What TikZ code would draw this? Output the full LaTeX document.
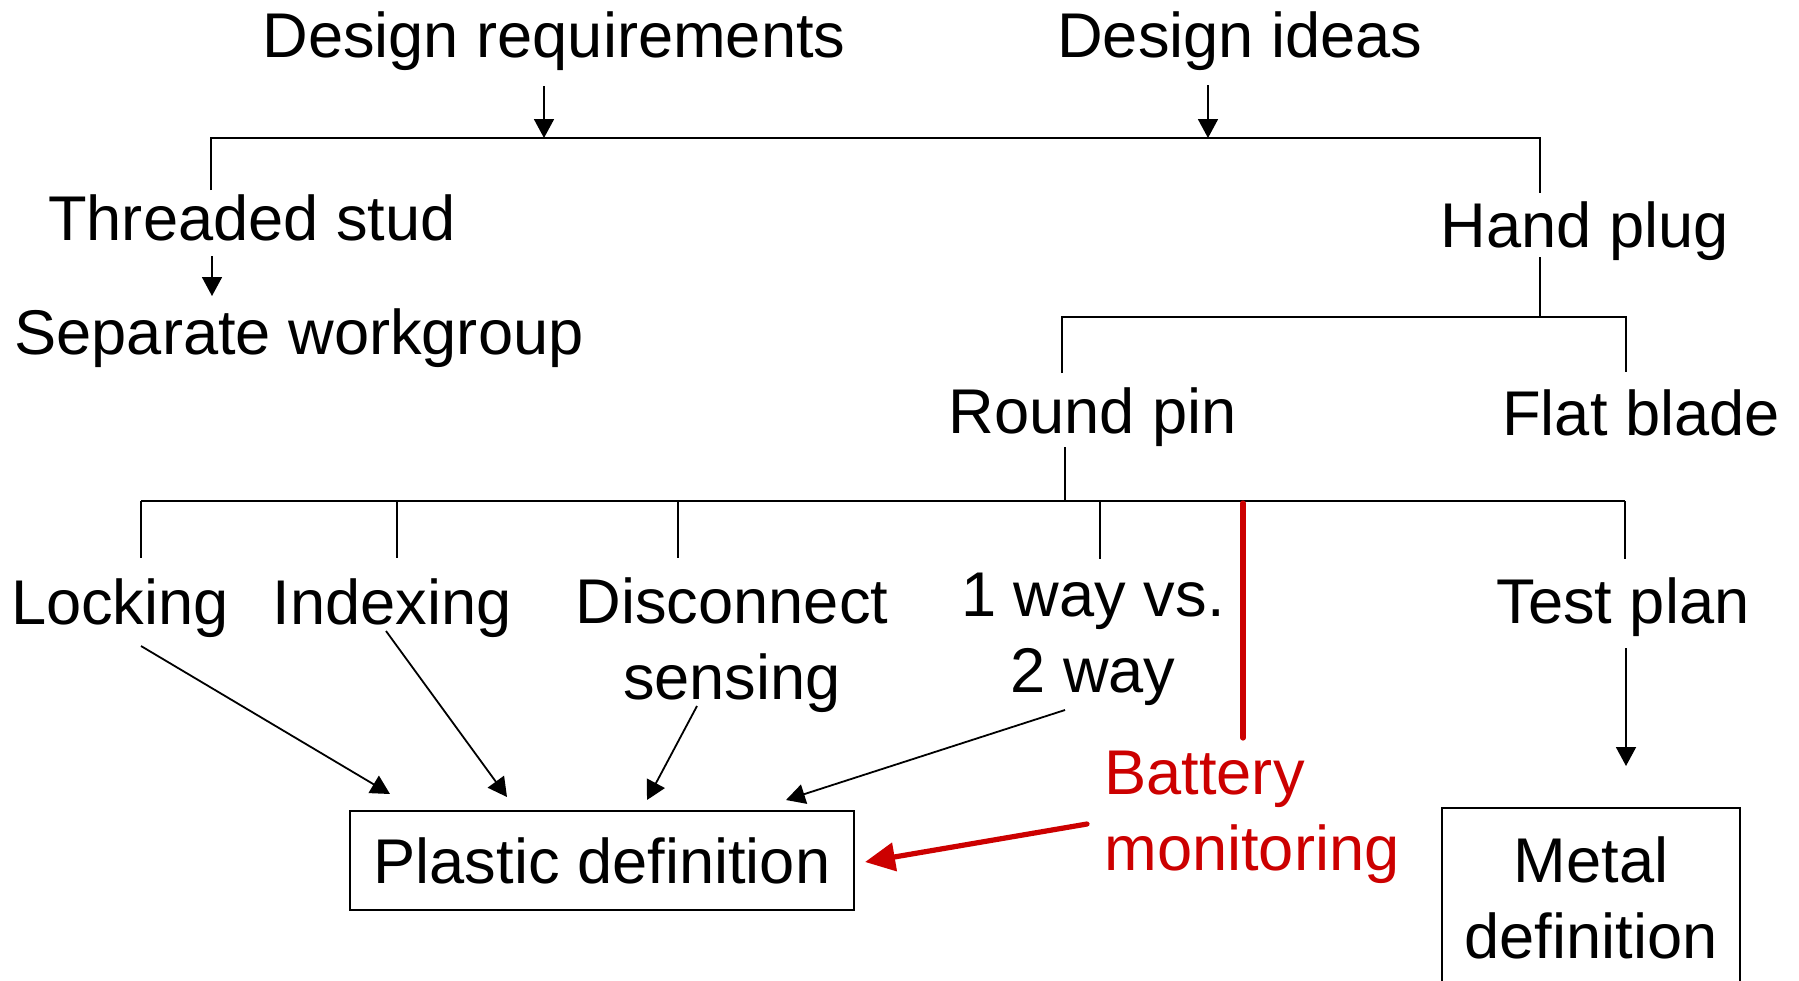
\documentclass[tikz,border=0pt]{standalone}
\usepackage{fontspec}
\setmainfont{Liberation Sans}
\usetikzlibrary{arrows.meta}
\definecolor{dred}{RGB}{204,0,0}
\begin{document}
\begin{tikzpicture}[x=0.5pt,y=-0.5pt,
  lbl/.style={inner sep=0pt, anchor=base, font=\fontsize{31.6}{38}\selectfont, align=center},
  ln/.style={line width=0.9pt, black},
  arr/.style={ln, -{Triangle[length=9.5pt,width=10pt]}},
  redln/.style={line width=2.6pt, dred, line cap=round},
  redarr/.style={redln, -{Triangle[length=15pt,width=14pt]}},
  boxnode/.style={draw, line width=0.9pt, inner sep=0pt, font=\fontsize{31.6}{38}\selectfont, align=center}]
\clip (0,0) rectangle (1799,980);
% text nodes (two-line nodes are placed by the baseline of their last line)
\node[lbl] (dr) at (554,57) {Design requirements};
\node[lbl] (di) at (1240,57) {Design ideas};
\node[lbl] (ts) at (252,240) {Threaded stud};
\node[lbl] (sw) at (299,354) {Separate workgroup};
\node[lbl] (hp) at (1585,247) {Hand plug};
\node[lbl] (rp) at (1093,433) {Round pin};
\node[lbl] (fb) at (1641,435) {Flat blade};
\node[lbl] (lk) at (120,624) {Locking};
\node[lbl] (ix) at (392,624) {Indexing};
\node[lbl] (ds) at (732,699) {Disconnect\\sensing};
\node[lbl] (ow) at (1093,692) {1 way vs.\\2 way};
\node[lbl] (tp) at (1623,623) {Test plan};
\node[lbl, anchor=base west, align=left, text=dred] (bm) at (1104,870) {Battery\\monitoring};
\node[boxnode, minimum width=252pt, minimum height=49.5pt] (pd) at (602,860.5) {Plastic definition};
\node[boxnode, minimum width=149pt, minimum height=89.5pt] (md) at (1591,897.5) {Metal\\definition};
% coordinates
\coordinate (drs) at (544,86);   \coordinate (drt) at (544,138);
\coordinate (dis) at (1208,85);  \coordinate (dit) at (1208,138);
\coordinate (tl) at (211,190);   \coordinate (tla) at (211,138);
\coordinate (tra) at (1540,138); \coordinate (tr) at (1540,193);
\coordinate (tss) at (212,256);  \coordinate (tst) at (212,296);
\coordinate (hps) at (1540,257); \coordinate (hpj) at (1540,317);
\coordinate (hl) at (1062,373);  \coordinate (hla) at (1062,317);
\coordinate (hra) at (1626,317); \coordinate (hr) at (1626,372);
\coordinate (rps) at (1065,447); \coordinate (rpj) at (1065,501);
\coordinate (b1a) at (141,501);  \coordinate (b1) at (141,558);
\coordinate (b2a) at (397,501);  \coordinate (b2) at (397,558);
\coordinate (b3a) at (678,501);  \coordinate (b3) at (678,558);
\coordinate (b4a) at (1100,501); \coordinate (b4) at (1100,559);
\coordinate (b5a) at (1625,501); \coordinate (b5) at (1625,559);
\coordinate (rda) at (1243,503); \coordinate (rd) at (1243,738);
\coordinate (tps) at (1626,648); \coordinate (tpt) at (1626,766);
\coordinate (lks) at (141,646);  \coordinate (lkt) at (390,794);
\coordinate (ixs) at (386,631);  \coordinate (ixt) at (507,797);
\coordinate (dss) at (697,706);  \coordinate (dst) at (647,800);
\coordinate (ows) at (1065,710); \coordinate (owt) at (786,800);
\coordinate (bms) at (1087,824); \coordinate (pdin) at (865,862);
% connectors
\draw[arr] (drs) -- (drt);
\draw[arr] (dis) -- (dit);
\draw[ln] (tl) -- (tla) -- (tra) -- (tr);
\draw[arr] (tss) -- (tst);
\draw[ln] (hps) -- (hpj);
\draw[ln] (hl) -- (hla) -- (hra) -- (hr);
\draw[ln] (rps) -- (rpj);
\draw[ln] (b1a) -- (b5a);
\draw[ln] (b1a) -- (b1);
\draw[ln] (b2a) -- (b2);
\draw[ln] (b3a) -- (b3);
\draw[ln] (b4a) -- (b4);
\draw[ln] (b5a) -- (b5);
\draw[redln] (rda) -- (rd);
\draw[arr] (tps) -- (tpt);
\draw[arr] (lks) -- (lkt);
\draw[arr] (ixs) -- (ixt);
\draw[arr] (dss) -- (dst);
\draw[arr] (ows) -- (owt);
\draw[redarr] (bms) -- (pdin);
\end{tikzpicture}
\end{document}
